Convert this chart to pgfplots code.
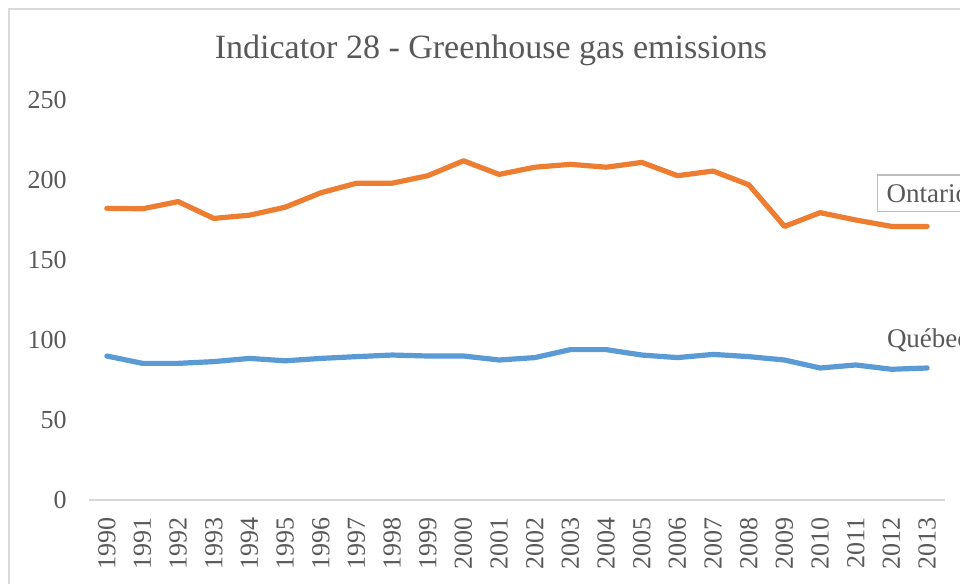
\documentclass[border=0pt]{standalone}
\usepackage{pgfplots}
\pgfplotsset{compat=1.18}
\usepackage{fontspec}
\setmainfont{Liberation Serif}
\definecolor{ontc}{HTML}{ED7D31}
\definecolor{quec}{HTML}{5B9BD5}
\definecolor{txtc}{HTML}{595959}
\definecolor{linec}{HTML}{D9D9D9}
\begin{document}
\begin{tikzpicture}
% pixel (X,Y) -> ((X-89)*0.5pt, (500-Y)*0.5pt)
\useasboundingbox (-44.5pt,-42pt) rectangle (435.5pt,250pt);
\clip (-44.5pt,-42pt) rectangle (435.5pt,250pt);
\fill[white] (-44.5pt,-42pt) rectangle (435.5pt,250pt);
\draw[linec, line width=1.2pt] (-40pt,-80pt) rectangle (442pt,245.5pt);
\begin{axis}[
  at={(0pt,0pt)}, anchor=south west,
  scale only axis,
  width=428pt, height=200pt,
  xmin=1989.5, xmax=2013.5,
  ymin=0, ymax=250,
  xtick={1990,...,2013},
  ytick={0,50,...,250},
  /pgf/number format/assume math mode=true,
  /pgf/number format/1000 sep={},
  axis line style={draw=none},
  tick style={draw=none},
  ticklabel style={font=\fontsize{13pt}{15pt}\selectfont, text=txtc},
  yticklabel style={anchor=east, inner sep=0pt},
  yticklabel shift=11pt,
  xticklabel style={rotate=90, anchor=east, inner sep=0pt},
  xticklabel shift=8.5pt,
  clip=false,
]
\draw[linec, line width=0.8pt] (axis cs:1989.5,0) -- (axis cs:2013.5,0);
\addplot[ontc, line width=2.6pt, line join=round, line cap=round] coordinates {
(1990,182.3) (1991,182) (1992,186.5) (1993,176) (1994,178) (1995,183)
(1996,192) (1997,198) (1998,198) (1999,202.7) (2000,212) (2001,203.5)
(2002,208) (2003,209.8) (2004,208) (2005,211) (2006,202.7) (2007,205.6)
(2008,197) (2009,171) (2010,179.6) (2011,175) (2012,171) (2013,171)};
\addplot[quec, line width=2.6pt, line join=round, line cap=round] coordinates {
(1990,90) (1991,85.4) (1992,85.4) (1993,86.5) (1994,88.5) (1995,87)
(1996,88.5) (1997,89.6) (1998,90.6) (1999,90) (2000,90) (2001,87.5)
(2002,89) (2003,94) (2004,94) (2005,90.6) (2006,89) (2007,91)
(2008,89.6) (2009,87.5) (2010,82.5) (2011,84.4) (2012,81.7) (2013,82.5)};
\end{axis}
\node[anchor=base, text=txtc, font=\fontsize{17pt}{20pt}\selectfont] at (201pt,220.5pt) {Indicator 28 - Greenhouse gas emissions};
\node[anchor=west, draw=linec!70!gray, line width=0.8pt, fill=white, text=txtc, inner xsep=4.5pt, inner ysep=3pt, minimum height=18.3pt, font=\fontsize{13.5pt}{15pt}\selectfont] at (393.9pt,153.3pt) {Ontario};
\node[anchor=base west, inner sep=0pt, text=txtc, font=\fontsize{13.5pt}{15pt}\selectfont] at (398.8pt,76pt) {Québec};
\end{tikzpicture}
\end{document}
